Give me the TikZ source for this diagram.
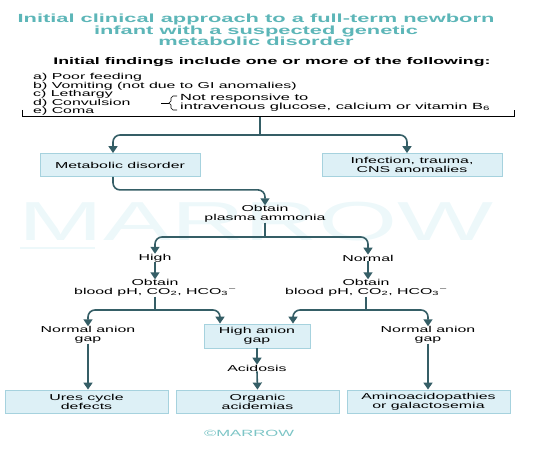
\documentclass[tikz,border=0pt]{standalone}
\usepackage{fontspec}
\setmainfont{Liberation Sans}[FakeStretch=1.85]
\usetikzlibrary{arrows.meta}
\definecolor{ttl}{HTML}{5DB6B8}
\definecolor{lnk}{HTML}{355E66}
\definecolor{bfill}{HTML}{DDF0F6}
\definecolor{bdraw}{HTML}{A6D2DE}
\definecolor{wmark}{HTML}{EDF8FA}
\tikzset{
  txt/.style={align=center, inner sep=0pt, font=\fontsize{8.6}{9}\selectfont},
  bx/.style={txt, draw=bdraw, fill=bfill, line width=.8pt, minimum height=23pt},
  ln/.style={draw=lnk, line width=1.6pt},
  arr/.style={ln, -{Triangle[width=9pt,length=7pt]}, rounded corners=7pt},
}
\begin{document}
\begin{tikzpicture}[x=1pt, y=-1pt]
	\useasboundingbox (0,0) rectangle (544,449);
	% watermark
	\node[inner sep=0pt, text=wmark, font=\fontsize{55}{55}\selectfont] (wm) at (256,222) {MARROW};
	\fill[wmark] (20,247) rectangle (95,249);
	% title
	\node[txt, text=ttl, font=\bfseries\fontsize{11.8}{11.6}\selectfont] (title) at (256,30)
		{Initial clinical approach to a full-term newborn\\infant with a suspected genetic\\metabolic disorder};
	\node[txt, font=\bfseries\fontsize{9.6}{9}\selectfont] (find) at (272,62)
		{Initial findings include one or more of the following:};
	\node[txt, align=left, anchor=north west, font=\fontsize{8.6}{8.6}\selectfont] (list) at (33,73)
		{a) Poor feeding\\b) Vomiting (not due to GI anomalies)\\c) Lethargy\\d) Convulsion\\e) Coma};
	\node[txt, align=left, anchor=west, font=\fontsize{8.9}{8.8}\selectfont] (notresp) at (180,102.5)
		{Not responsive to\\intravenous glucose, calcium or vitamin B\textsubscript{6}};
	\draw[line width=.6pt] (161,103) -- (169,103);
	\draw[line width=.6pt] (177,96) -- (173,96) -- (171,98) -- (171,101) -- (169,103)
		-- (171,105) -- (171,108) -- (173,110) -- (177,110);
	% bracket
	\draw[line width=1pt] (22,110) -- (22,117) -- (514,117) -- (514,110);
	\coordinate (top) at (260,117);
	\coordinate (fork) at (260,135);
	% boxes level 1
	\node[bx, minimum width=160pt] (meta) at (120,165) {Metabolic disorder};
	\node[bx, minimum width=180pt] (infect) at (412,165) {Infection, trauma,\\CNS anomalies};
	\draw[ln] (top) -- (fork);
	\draw[arr] (fork) -| ([xshift=-7pt]meta.north);
	\draw[arr] (fork) -| ([xshift=-5pt]infect.north);
	% ammonia
	\node[txt] (amm) at (265,214) {Obtain\\plasma ammonia};
	\draw[arr] ([xshift=-7pt]meta.south) -- ++(0,13) -| (amm.north);
	\coordinate (split1) at (265,237);
	\draw[ln] (amm.south) -- (split1);
	\node[txt] (high) at (155,258) {High};
	\node[txt] (norm) at (368,258) {Normal};
	\draw[arr] (split1) -| (high.north);
	\draw[arr] (split1) -| (norm.north);
	% blood gases
	\node[txt] (obl) at (155,288) {Obtain\\blood pH, CO\textsubscript{2}, HCO\textsubscript{3}\textsuperscript{\,–}};
	\node[txt] (obr) at (366,288) {Obtain\\blood pH, CO\textsubscript{2}, HCO\textsubscript{3}\textsuperscript{\,–}};
	\draw[arr] (high.south) -- (obl.north);
	\draw[arr] (norm.south) -- ([xshift=2pt]obr.north);
	\coordinate (split2) at (155,310);
	\coordinate (split3) at (366,310);
	\draw[ln] (obl.south) -- (split2);
	\draw[ln] (obr.south) -- (split3);
	% anion gap
	\node[txt] (nagl) at (88,335) {Normal anion\\gap};
	\node[bx, minimum width=106pt, minimum height=24pt] (hag) at (257,336) {High anion\\gap};
	\node[txt] (nagr) at (428,335) {Normal anion\\gap};
	\draw[arr] (split2) -| (nagl.north);
	\draw[arr] (split2) -| ([xshift=-37pt]hag.north);
	\draw[arr] (split3) -| ([xshift=36pt]hag.north);
	\draw[arr] (split3) -| (nagr.north);
	\node[txt] (acid) at (257,368) {Acidosis};
	\draw[arr] (hag.south) -- (acid.north);
	% results
	\node[bx, minimum width=163pt] (urea) at (86.5,401.5) {Ures cycle\\defects};
	\node[bx, minimum width=163pt] (org) at (257.5,401.5) {Organic\\acidemias};
	\node[bx, minimum width=163pt] (amino) at (428.5,401.5) {Aminoacidopathies\\or galactosemia};
	\draw[arr] (acid.south) -- (org.north);
	\draw[arr] (nagl.south) -- (urea.north -| nagl.south);
	\draw[arr] (nagr.south) -- (amino.north -| nagr.south);
	\node[txt, text=ttl!80, font=\fontsize{9}{9}\selectfont] (copy) at (249,433) {©MARROW};
\end{tikzpicture}
\end{document}
